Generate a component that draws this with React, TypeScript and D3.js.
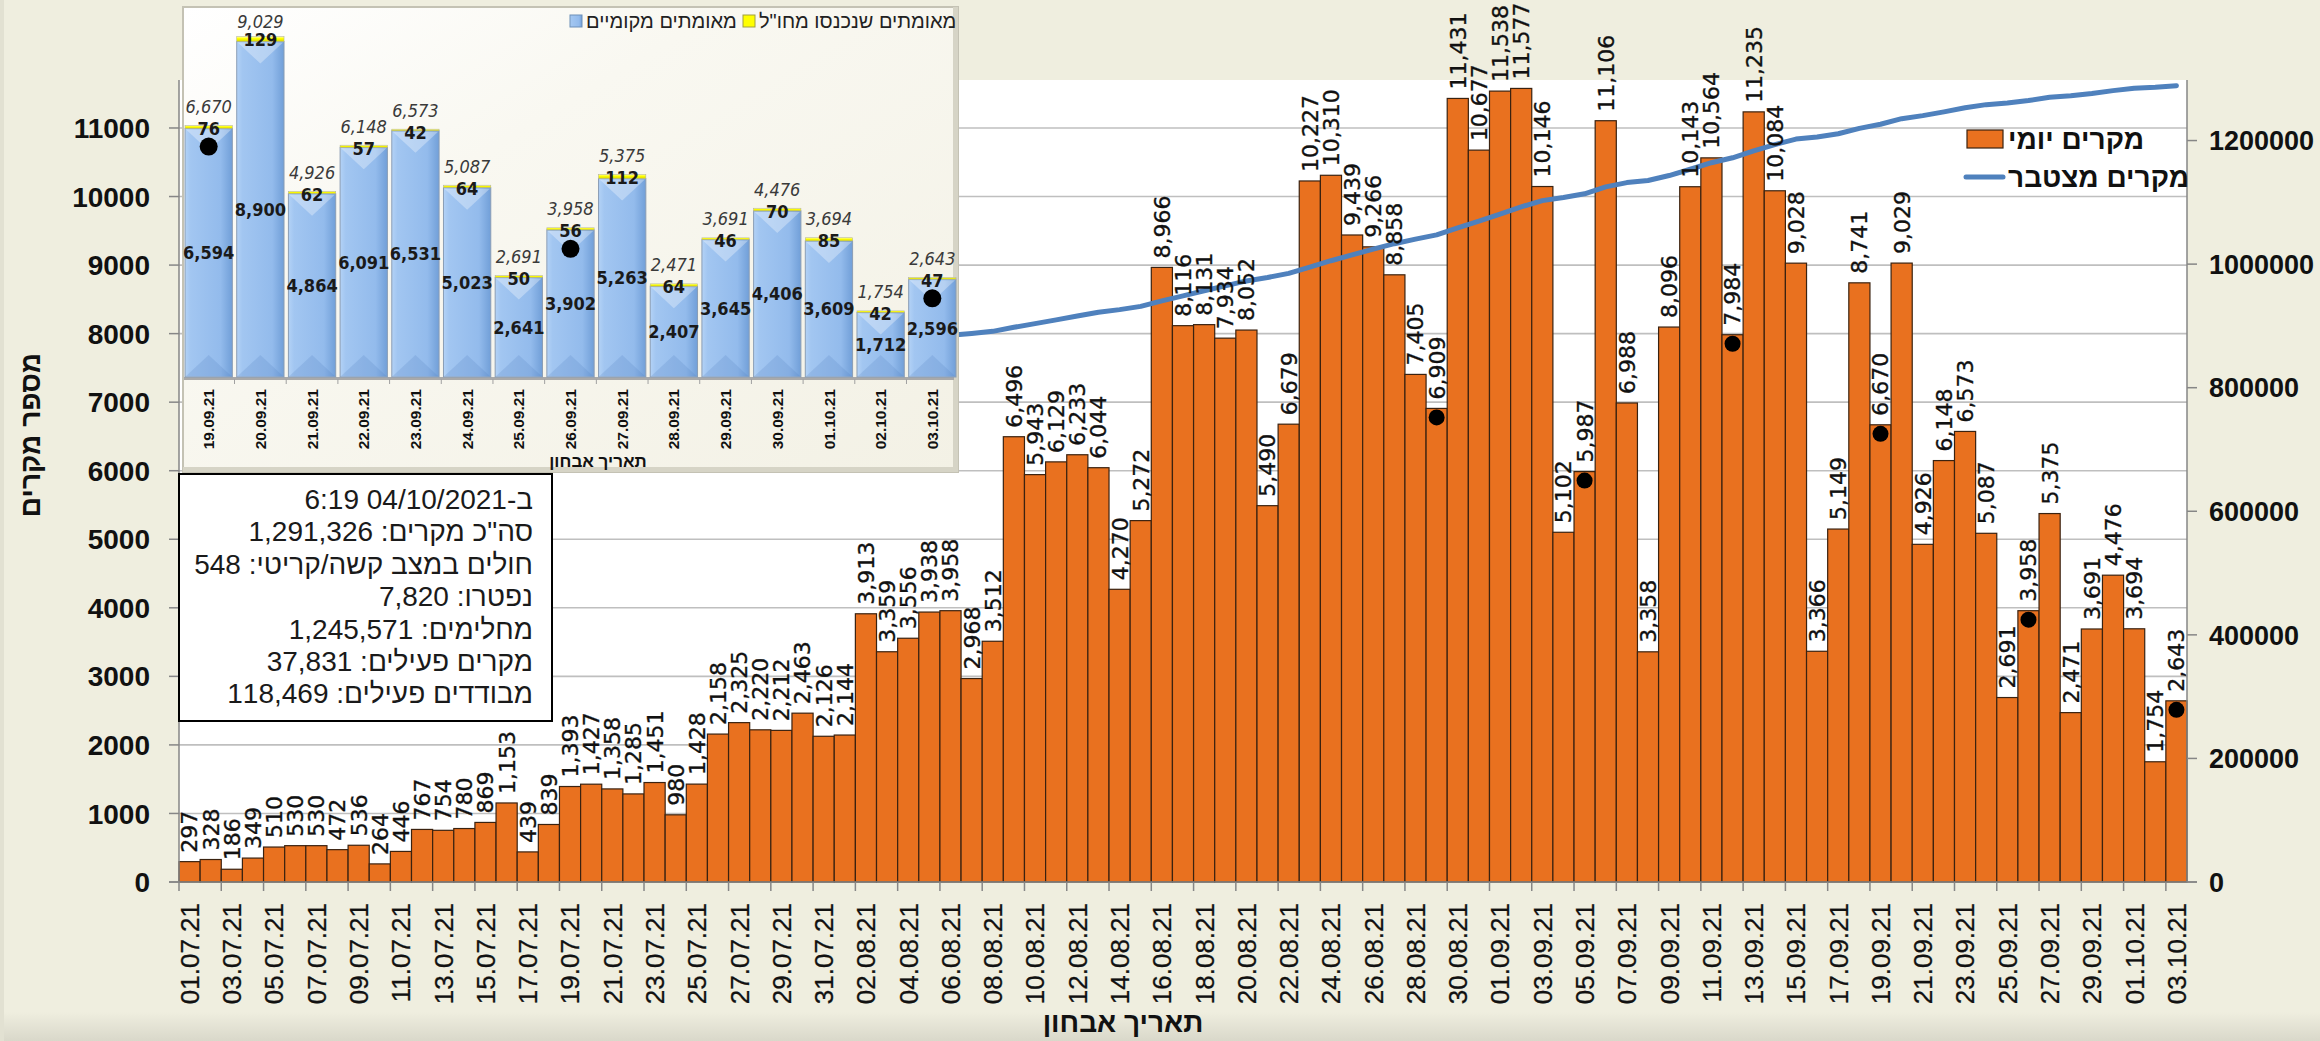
import * as d3 from "d3";

const W = 2320;
const H = 1041;

// daily confirmed cases, 01.07.21 - 03.10.21
const dates = [
  "01.07.21", "02.07.21", "03.07.21", "04.07.21", "05.07.21", "06.07.21", "07.07.21", "08.07.21",
  "09.07.21", "10.07.21", "11.07.21", "12.07.21", "13.07.21", "14.07.21", "15.07.21", "16.07.21",
  "17.07.21", "18.07.21", "19.07.21", "20.07.21", "21.07.21", "22.07.21", "23.07.21", "24.07.21",
  "25.07.21", "26.07.21", "27.07.21", "28.07.21", "29.07.21", "30.07.21", "31.07.21",
  "01.08.21", "02.08.21", "03.08.21", "04.08.21", "05.08.21", "06.08.21", "07.08.21", "08.08.21",
  "09.08.21", "10.08.21", "11.08.21", "12.08.21", "13.08.21", "14.08.21", "15.08.21", "16.08.21",
  "17.08.21", "18.08.21", "19.08.21", "20.08.21", "21.08.21", "22.08.21", "23.08.21", "24.08.21",
  "25.08.21", "26.08.21", "27.08.21", "28.08.21", "29.08.21", "30.08.21", "31.08.21",
  "01.09.21", "02.09.21", "03.09.21", "04.09.21", "05.09.21", "06.09.21", "07.09.21", "08.09.21",
  "09.09.21", "10.09.21", "11.09.21", "12.09.21", "13.09.21", "14.09.21", "15.09.21", "16.09.21",
  "17.09.21", "18.09.21", "19.09.21", "20.09.21", "21.09.21", "22.09.21", "23.09.21", "24.09.21",
  "25.09.21", "26.09.21", "27.09.21", "28.09.21", "29.09.21", "30.09.21",
  "01.10.21", "02.10.21", "03.10.21",
];

const dailyCases = [
  297, 328, 186, 349, 510, 530, 530, 472, 536, 264, 446, 767, 754, 780, 869, 1153,
  439, 839, 1393, 1427, 1358, 1285, 1451, 980, 1428, 2158, 2325, 2220, 2212, 2463, 2126,
  2144, 3913, 3359, 3556, 3938, 3958, 2968, 3512, 6496, 5943, 6129, 6233, 6044, 4270, 5272, 8966,
  8116, 8131, 7934, 8052, 5490, 6679, 10227, 10310, 9439, 9266, 8858, 7405, 6909, 11431, 10677,
  11538, 11577, 10146, 5102, 5987, 11106, 6988, 3358, 8096, 10143, 10564, 7984, 11235, 10084, 9028, 3366,
  5149, 8741, 6670, 9029, 4926, 6148, 6573, 5087, 2691, 3958, 5375, 2471, 3691, 4476,
  3694, 1754, 2643,
];

// cumulative cases (right axis)
const cumulativeCases = [
  831297, 831625, 831811, 832160, 832670, 833200, 833730, 834202, 834738, 835002, 835448, 836215,
  836969, 837749, 838618, 839771, 840210, 841049, 842442, 843869, 845227, 846512, 847963, 848943,
  850371, 852529, 854854, 857074, 859286, 861749, 863875,
  866019, 869932, 873291, 876847, 880785, 884743, 887711, 891223, 897719, 903662, 909791, 916024,
  922068, 926338, 931610, 940576, 948692, 956823, 964757, 972809, 978299, 984978, 995205, 1005515,
  1014954, 1024220, 1033078, 1040483, 1047392, 1058823, 1069500,
  1081038, 1092615, 1102761, 1107863, 1113850, 1124956, 1131944, 1135302, 1143398, 1153541,
  1164105, 1172089, 1183324, 1193408, 1202436, 1205802, 1210951, 1219692, 1226362, 1235391,
  1240317, 1246465, 1253038, 1258125, 1260816, 1264774, 1270149, 1272620, 1276311, 1280787,
  1284481, 1286235, 1288878,
];

const markedDays = ["29.08.21", "05.09.21", "12.09.21", "19.09.21", "26.09.21", "03.10.21"];

const leftTicks = [0, 1000, 2000, 3000, 4000, 5000, 6000, 7000, 8000, 9000, 10000, 11000];
const rightTicks = [0, 200000, 400000, 600000, 800000, 1000000, 1200000];

// inset: last 15 days split by origin
const insetDates = [
  "19.09.21", "20.09.21", "21.09.21", "22.09.21", "23.09.21", "24.09.21", "25.09.21", "26.09.21",
  "27.09.21", "28.09.21", "29.09.21", "30.09.21", "01.10.21", "02.10.21", "03.10.21",
];
const insetLocal = [6594, 8900, 4864, 6091, 6531, 5023, 2641, 3902, 5263, 2407, 3645, 4406, 3609, 1712, 2596];
const insetAbroad = [76, 129, 62, 57, 42, 64, 50, 56, 112, 64, 46, 70, 85, 42, 47];
const insetMarked = ["19.09.21", "26.09.21", "03.10.21"];

const summaryLines = [
  "ב-04/10/2021 6:19",
  "סה\"כ מקרים: 1,291,326",
  "חולים במצב קשה/קריטי: 548",
  "נפטרו: 7,820",
  "מחלימים: 1,245,571",
  "מקרים פעילים: 37,831",
  "מבודדים פעילים: 118,469",
];

const SANS = "'Liberation Sans', Arial, sans-serif";
const NARROW = "'Liberation Sans Narrow', 'Arial Narrow', 'Liberation Sans', sans-serif";
const DEJAVU = "'DejaVu Sans', sans-serif";
const DEJAVU_C = "'DejaVu Sans Condensed', 'DejaVu Sans', sans-serif";

const ORANGE = "#e9711f";
const BLUE = "#4f81bd";
const BG = "#efeedf";

const PLOT = { left: 179, right: 2187, top: 80, bottom: 882 };
const INSET = { left: 183, right: 958, top: 7, bottom: 472, floor: 377 };

const fmt = d3.format(",");

export default function App() {
  const x = d3.scaleBand<string>().domain(dates).range([PLOT.left, PLOT.right]).padding(0);
  const yL = d3.scaleLinear().domain([0, 11700]).range([PLOT.bottom, PLOT.top]);
  const yR = d3.scaleLinear().domain([0, 1298000]).range([PLOT.bottom, PLOT.top]);
  const bw = x.bandwidth();
  const cx = (d: string) => (x(d) ?? 0) + bw / 2;

  const cumLine = d3
    .line<number>()
    .x((_, i) => cx(dates[i]))
    .y((v) => yR(v))(cumulativeCases);

  // inset scales
  const ix = d3
    .scaleBand<string>()
    .domain(insetDates)
    .range([INSET.left + 1, INSET.right - 1])
    .paddingInner(0.085)
    .paddingOuter(0.02);
  const iy = d3.scaleLinear().domain([0, 10000]).range([INSET.floor, 0]);
  const ibw = ix.bandwidth();

  return (
    <svg
      width={W}
      height={H}
      style={{ position: "absolute", left: 0, top: 0, display: "block" }}
    >
      <defs>
        <linearGradient id="bottomShade" x1="0" y1="0" x2="0" y2="1">
          <stop offset="0" stopColor={BG} />
          <stop offset="1" stopColor="#d9d8ca" />
        </linearGradient>
        <linearGradient id="insetBg" x1="0" y1="0" x2="1" y2="1">
          <stop offset="0" stopColor="#ffffff" />
          <stop offset="0.35" stopColor="#f9f8f1" />
          <stop offset="1" stopColor="#f3f1e5" />
        </linearGradient>
        <linearGradient id="insetBar" x1="0" y1="0" x2="1" y2="0">
          <stop offset="0" stopColor="#b3d2f6" />
          <stop offset="0.12" stopColor="#a2c6f1" />
          <stop offset="0.75" stopColor="#93bbec" />
          <stop offset="1" stopColor="#719fd8" />
        </linearGradient>
        <linearGradient id="insetYellow" x1="0" y1="0" x2="0" y2="1">
          <stop offset="0" stopColor="#ffffb0" />
          <stop offset="0.4" stopColor="#ffff00" />
          <stop offset="1" stopColor="#d8d800" />
        </linearGradient>
      </defs>

      {/* background */}
      <rect x={0} y={0} width={W} height={H} fill={BG} />
      <rect x={0} y={1012} width={W} height={H - 1012} fill="url(#bottomShade)" />
      <rect x={0} y={0} width={4} height={H} fill="#e2e1d2" />
      <rect
        x={PLOT.left}
        y={PLOT.top}
        width={PLOT.right - PLOT.left}
        height={PLOT.bottom - PLOT.top}
        fill="#ffffff"
      />

      {/* gridlines */}
      {leftTicks.slice(1).map((t) => (
        <line
          key={t}
          x1={PLOT.left}
          x2={PLOT.right}
          y1={yL(t)}
          y2={yL(t)}
          stroke="#bfbfbf"
          strokeWidth={1.6}
        />
      ))}

      {/* daily bars */}
      {dates.map((d, i) => (
        <rect
          key={d}
          x={x(d)}
          y={yL(dailyCases[i])}
          width={bw}
          height={PLOT.bottom - yL(dailyCases[i])}
          fill={ORANGE}
          stroke="#3a2210"
          strokeWidth={1.2}
        />
      ))}

      {/* sunday markers */}
      {markedDays.map((d) => (
        <circle key={d} cx={cx(d)} cy={yL(dailyCases[dates.indexOf(d)]) + 9} r={8} fill="#000" />
      ))}

      {/* cumulative line */}
      <path d={cumLine ?? ""} fill="none" stroke={BLUE} strokeWidth={5} strokeLinejoin="round" strokeLinecap="round" />

      {/* data labels */}
      {dates.map((d, i) => (
        <text
          key={d}
          transform={`translate(${cx(d)},${yL(dailyCases[i]) - 9}) rotate(-90)`}
          textAnchor="start"
          dy="0.36em"
          fontSize={22}
          fontFamily={DEJAVU}
          fill="#111"
          stroke="#111"
          strokeWidth={0.35}
        >
          {fmt(dailyCases[i])}
        </text>
      ))}

      {/* axes */}
      <line x1={PLOT.left} x2={PLOT.left} y1={PLOT.top} y2={PLOT.bottom} stroke="#868686" strokeWidth={1.5} />
      <line x1={PLOT.right} x2={PLOT.right} y1={PLOT.top} y2={PLOT.bottom} stroke="#868686" strokeWidth={1.5} />
      <line x1={PLOT.left - 10} x2={PLOT.right + 10} y1={PLOT.bottom} y2={PLOT.bottom} stroke="#868686" strokeWidth={1.5} />
      {leftTicks.map((t) => (
        <g key={t}>
          <line x1={PLOT.left - 10} x2={PLOT.left} y1={yL(t)} y2={yL(t)} stroke="#868686" strokeWidth={1.5} />
          <text
            x={150}
            y={yL(t)}
            dy="0.36em"
            textAnchor="end"
            fontSize={28}
            fontWeight="bold"
            fontFamily={NARROW}
            fill="#111"
          >
            {t}
          </text>
        </g>
      ))}
      {rightTicks.map((t) => (
        <g key={t}>
          <line x1={PLOT.right} x2={PLOT.right + 10} y1={yR(t)} y2={yR(t)} stroke="#868686" strokeWidth={1.5} />
          <text
            x={2209}
            y={yR(t)}
            dy="0.36em"
            textAnchor="start"
            fontSize={27}
            fontWeight="bold"
            fontFamily={SANS}
            fill="#111"
          >
            {t}
          </text>
        </g>
      ))}
      {dates.map((d, i) =>
        i % 2 === 0 ? (
          <g key={d}>
            <line x1={x(d)} x2={x(d)} y1={PLOT.bottom} y2={PLOT.bottom + 9} stroke="#868686" strokeWidth={1.5} />
            <text
              transform={`translate(${cx(d)},903) rotate(-90)`}
              textAnchor="end"
              dy="0.36em"
              fontSize={26}
              fontFamily={SANS}
              fill="#111"
              stroke="#111"
              strokeWidth={0.3}
            >
              {d}
            </text>
          </g>
        ) : null
      )}

      {/* axis titles */}
      <text
        transform="translate(30,435) rotate(-90)"
        textAnchor="middle"
        dy="0.36em"
        fontSize={28}
        fontWeight="bold"
        fontFamily={SANS}
        fill="#111"
      >
        מספר מקרים
      </text>
      <text x={1123} y={1032} textAnchor="middle" fontSize={28} fontWeight="bold" fontFamily={SANS} fill="#111">
        תאריך אבחון
      </text>

      {/* legend */}
      <rect x={1967} y={130} width={36} height={18} fill={ORANGE} stroke="#3a2210" strokeWidth={1.2} />
      <text x={2008} y={139} dy="0.36em" fontSize={28} fontWeight="bold" fontFamily={SANS} fill="#111">
        מקרים יומי
      </text>
      <line x1={1966} x2={2003} y1={177} y2={177} stroke={BLUE} strokeWidth={5} strokeLinecap="round" />
      <text x={2008} y={177} dy="0.36em" fontSize={28} fontWeight="bold" fontFamily={SANS} fill="#111">
        מקרים מצטבר
      </text>

      {/* inset chart */}
      <g>
        <rect
          x={INSET.left}
          y={INSET.top}
          width={INSET.right - INSET.left}
          height={INSET.bottom - INSET.top}
          fill="url(#insetBg)"
          stroke="#c4c2b4"
          strokeWidth={2}
        />
        <rect x={INSET.right - 5} y={INSET.top} width={5} height={INSET.bottom - INSET.top} fill="#d6d4c6" />
        <rect x={INSET.left} y={INSET.bottom - 5} width={INSET.right - INSET.left} height={5} fill="#d6d4c6" />

        {/* legend */}
        <rect x={570} y={15} width={12} height={12} fill="url(#insetBar)" stroke="#6d8fb8" strokeWidth={1} />
        <text x={586} y={21} dy="0.36em" fontSize={20} fontFamily={NARROW} fill="#222">
          מאומתים מקומיים
        </text>
        <rect x={743} y={15} width={12} height={12} fill="#ffff00" stroke="#a0a040" strokeWidth={1} />
        <text x={759} y={21} dy="0.36em" fontSize={20} fontFamily={NARROW} fill="#222">
          מאומתים שנכנסו מחו"ל
        </text>

        {/* floor */}
        <line
          x1={INSET.left + 1}
          x2={INSET.right - 4}
          y1={INSET.floor + 1.5}
          y2={INSET.floor + 1.5}
          stroke="#a9a9a9"
          strokeWidth={3}
        />

        {insetDates.map((d, i) => {
          const x0 = ix(d) ?? 0;
          const c = x0 + ibw / 2;
          const topLocal = iy(insetLocal[i]);
          const total = insetLocal[i] + insetAbroad[i];
          const top = iy(total);
          const bev = 22;
          return (
            <g key={d}>
              <rect
                x={x0}
                y={topLocal}
                width={ibw}
                height={INSET.floor - topLocal}
                fill="url(#insetBar)"
                stroke="#8a9db5"
                strokeWidth={1}
              />
              <polygon
                points={`${x0 + 1},${topLocal + 1} ${x0 + ibw - 1},${topLocal + 1} ${c},${topLocal + bev}`}
                fill="#ffffff"
                opacity={0.32}
              />
              <polygon
                points={`${x0 + 1},${INSET.floor - 1} ${x0 + ibw - 1},${INSET.floor - 1} ${c},${INSET.floor - bev}`}
                fill="#4f7fbf"
                opacity={0.2}
              />
              <rect
                x={x0}
                y={top}
                width={ibw}
                height={Math.max(topLocal - top, 1.5)}
                fill="url(#insetYellow)"
                stroke="#b8b890"
                strokeWidth={0.6}
              />
              {i > 0 ? (
                <line
                  x1={x0 - (ix.step() - ibw) / 2}
                  x2={x0 - (ix.step() - ibw) / 2}
                  y1={INSET.floor + 2}
                  y2={INSET.floor + 7}
                  stroke="#a0a0a0"
                  strokeWidth={1}
                />
              ) : null}
              {insetMarked.includes(d) ? <circle cx={c} cy={top + 21} r={9} fill="#000" /> : null}
              <text
                x={c}
                y={(topLocal + INSET.floor) / 2}
                dy="0.36em"
                textAnchor="middle"
                fontSize={18}
                fontWeight="bold"
                fontFamily={DEJAVU_C}
                fill="#1a1a1a"
              >
                {fmt(insetLocal[i])}
              </text>
              <text
                x={c}
                y={top + 3}
                dy="0.36em"
                textAnchor="middle"
                fontSize={18}
                fontWeight="bold"
                fontFamily={DEJAVU_C}
                fill="#1a1a1a"
              >
                {insetAbroad[i]}
              </text>
              <text
                x={c}
                y={Math.max(top - 19, 22)}
                dy="0.36em"
                textAnchor="middle"
                fontSize={18}
                fontStyle="italic"
                fontFamily={DEJAVU_C}
                fill="#3a3a3a"
              >
                {fmt(total)}
              </text>
              <text
                transform={`translate(${c},389) rotate(-90)`}
                textAnchor="end"
                dy="0.36em"
                fontSize={15.5}
                fontWeight="bold"
                fontFamily={SANS}
                fill="#111"
              >
                {d}
              </text>
            </g>
          );
        })}

        <text x={598} y={461} dy="0.36em" textAnchor="middle" fontSize={17} fontWeight="bold" fontFamily={SANS} fill="#111">
          תאריך אבחון
        </text>
      </g>

      {/* summary box */}
      <rect x={179} y={474} width={373} height={247} fill="#ffffff" stroke="#000" strokeWidth={2} />
      {summaryLines.map((s, i) => (
        <text
          key={s}
          x={533}
          y={509 + i * 32.4}
          direction="rtl"
          textAnchor="start"
          fontSize={28}
          fontFamily={NARROW}
          fill="#1a1a1a"
        >
          {s}
        </text>
      ))}
    </svg>
  );
}
